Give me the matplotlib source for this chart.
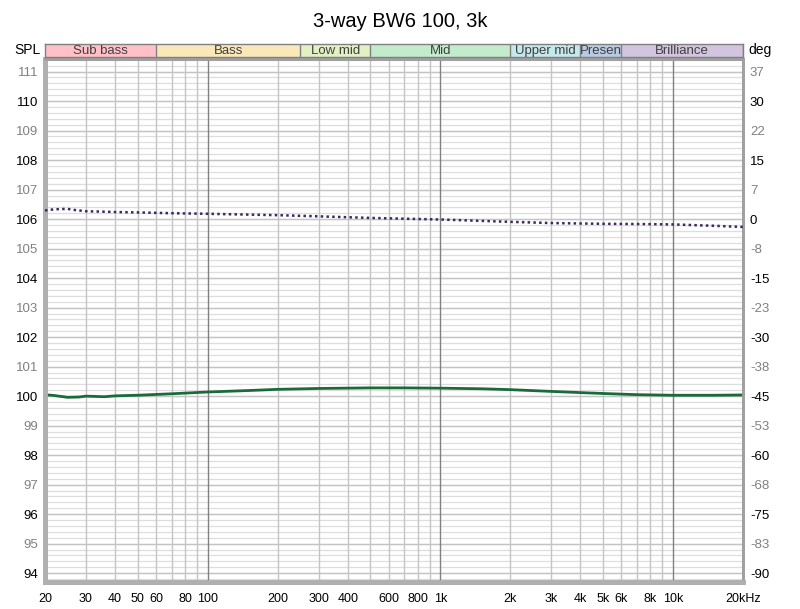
import numpy as np
import matplotlib.pyplot as plt
from matplotlib.ticker import FixedLocator, NullFormatter

plt.rcParams['font.family'] = ['Liberation Sans', 'DejaVu Sans']

# SPL magnitude (dB)
freq_spl = [20, 22, 25, 28, 30, 33, 36, 40, 50, 70, 100, 150, 200, 300,
            500, 700, 1000, 1500, 2000, 3000, 4000, 5000, 7000, 10000, 15000, 20000]
spl = [100.05, 100.02, 99.96, 99.97, 100.0, 99.99, 99.98, 100.01, 100.03, 100.08,
       100.14, 100.19, 100.23, 100.26, 100.28, 100.28, 100.27, 100.25, 100.22,
       100.16, 100.12, 100.09, 100.05, 100.03, 100.03, 100.04]

# phase (deg)
freq_ph = [20, 22, 25, 27, 30, 35, 40, 50, 70, 100, 200, 300, 500, 700, 1000,
           2000, 3000, 5000, 7000, 10000, 15000, 20000]
phase = [2.2, 2.5, 2.6, 2.3, 2.0, 1.9, 1.8, 1.7, 1.5, 1.35, 1.0, 0.7, 0.3, 0.1,
         -0.1, -0.7, -1.0, -1.2, -1.25, -1.35, -1.7, -2.0]

bands = ["Sub bass", "Bass", "Low mid", "Mid", "Upper mid", "Presen", "Brilliance"]
band_edges = [20, 60, 250, 500, 2000, 4000, 6000, 20000]
band_colors = ["#ffc0c8", "#fae8b8", "#e2f0c4", "#c2eccb", "#c4e8ec", "#b9cbe4", "#d3c4e0"]

x_ticks = [20, 30, 40, 50, 60, 80, 100, 200, 300, 400, 600, 800, 1000,
           2000, 3000, 4000, 5000, 6000, 8000, 10000, 20000]
x_labels = ["20", "30", "40", "50", "60", "80", "100", "200", "300", "400", "600",
            "800", "1k", "2k", "3k", "4k", "5k", "6k", "8k", "10k", "20kHz"]
spl_ticks = list(range(94, 112))

y_lo, y_hi = 93.7, 111.43


def to_deg(v):
    return (v - 94) * 7.5 - 90


fig = plt.figure(figsize=(8, 6.09), dpi=100)
ax = fig.add_axes([0.05625, 0.0443, 0.8725, 0.859])

ax.set_xscale("log")
ax.set_xlim(20, 20000)
ax.set_ylim(y_lo, y_hi)

# grid lines
minor_x = [m * 10 ** e for e in range(1, 5) for m in range(2, 10) if 20 <= m * 10 ** e <= 20000]
for f in minor_x:
    ax.axvline(f, color="#c4c4c4", lw=1, zorder=1)
for f in [100, 1000, 10000]:
    ax.axvline(f, color="#808080", lw=1, zorder=1.5)
for v in np.arange(93.8, y_hi, 0.2):
    ax.axhline(v, color="#dedede", lw=0.9, zorder=0.5)
for v in spl_ticks:
    ax.axhline(v, color="#c4c4c4", lw=1, zorder=0.8)

ax.plot(freq_spl, spl, color="#1b6b3a", lw=2.0, zorder=3)

ax2 = ax.twinx()
ax2.set_ylim(to_deg(y_lo), to_deg(y_hi))
ax2.plot(freq_ph, phase, color="#3b2a5e", lw=1.8, ls=(0, (1, 1.3)), zorder=3)

# ticks
ax.xaxis.set_major_locator(FixedLocator(x_ticks))
ax.set_xticklabels(x_labels)
ax.xaxis.set_minor_formatter(NullFormatter())
ax.tick_params(axis="x", which="both", length=0, labelsize=9, pad=8)

ax.set_yticks(spl_ticks)
ax.set_yticklabels([str(v) for v in spl_ticks])
ax.tick_params(axis="y", length=0, labelsize=9.5, pad=5)
for lab, v in zip(ax.get_yticklabels(), spl_ticks):
    lab.set_color("#000000" if v % 2 == 0 else "#808080")

deg_ticks = [to_deg(v) for v in spl_ticks]
ax2.set_yticks(deg_ticks)
ax2.set_yticklabels([str(int(np.floor(d))) for d in deg_ticks])
ax2.tick_params(axis="y", length=0, labelsize=9.5, pad=5)
for lab, v in zip(ax2.get_yticklabels(), spl_ticks):
    lab.set_color("#000000" if v % 2 == 0 else "#808080")

for a in (ax, ax2):
    a.spines["left"].set_color("#b0b0b0")
    a.spines["left"].set_linewidth(3.5)
    a.spines["bottom"].set_color("#b0b0b0")
    a.spines["bottom"].set_linewidth(3.5)
    a.spines["top"].set_color("#a0a0a0")
    a.spines["top"].set_linewidth(2)
    a.spines["right"].set_color("#a0a0a0")
    a.spines["right"].set_linewidth(2)

# frequency band bar
bax = fig.add_axes([0.05625, 0.9064, 0.8725, 0.0213])
bax.set_xscale("log")
bax.set_xlim(20, 20000)
bax.set_ylim(0, 1)
for name, lo, hi, c in zip(bands, band_edges[:-1], band_edges[1:], band_colors):
    bax.axvspan(lo, hi, color=c, zorder=1)
    bax.axvline(hi, color="#808080", lw=1, zorder=2)
    bax.text(np.sqrt(lo * hi), 0.45, name, ha="center", va="center",
             fontsize=9.5, color="#404040", clip_on=True)
bax.set_xticks([])
bax.set_yticks([])
bax.minorticks_off()
for s in bax.spines.values():
    s.set_color("#808080")
    s.set_linewidth(1)

fig.text(0.034, 0.918, "SPL", ha="center", va="center", fontsize=10)
fig.text(0.95, 0.918, "deg", ha="center", va="center", fontsize=10)
fig.text(0.5, 0.965, "3-way BW6 100, 3k", ha="center", va="center", fontsize=14.5)

fig.savefig("out.png", dpi=100)
